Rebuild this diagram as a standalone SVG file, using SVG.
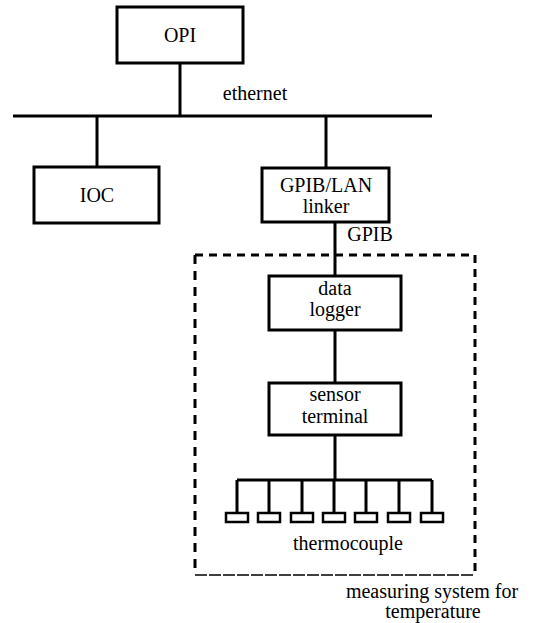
<svg xmlns="http://www.w3.org/2000/svg" width="539" height="623" viewBox="0 0 539 623" font-family="'Liberation Serif', 'DejaVu Serif', serif">
<style>
.box{fill:#fff;stroke:#000;stroke-width:3}
.ln{stroke:#000;stroke-width:3;fill:none}
text{font-family:'Liberation Serif','DejaVu Serif',serif;font-size:20px;fill:#000;text-anchor:middle}
.tc{fill:#fff;stroke:#000;stroke-width:2.5}
</style>
<rect width="539" height="623" fill="#fff"/>
<g id="connectors">
<line class="ln" x1="180" y1="63" x2="180" y2="116"/>
<line class="ln" x1="13" y1="116" x2="432" y2="116"/>
<line class="ln" x1="97" y1="116" x2="97" y2="167"/>
<line class="ln" x1="326" y1="116" x2="326" y2="168"/>
<line class="ln" x1="335" y1="222" x2="335" y2="276"/>
<line class="ln" x1="335" y1="330" x2="335" y2="383"/>
<line class="ln" x1="335" y1="435" x2="335" y2="480"/>
<line class="ln" x1="237" y1="480" x2="432" y2="480"/>
<path class="ln" d="M237 480V513M269 480V513M302 480V513M334 480V513M366 480V513M399 480V513M432 480V513"/>
<text x="370" y="241">GPIB</text>
<text x="255" y="100">ethernet</text>
</g>
<g id="measuring-system">
<path d="M195 255H475V575" fill="none" stroke="#000" stroke-width="3" stroke-dasharray="8 6"/>
<path d="M195 255V575" fill="none" stroke="#000" stroke-width="3" stroke-dasharray="9 7"/>
<path d="M195 575H475" fill="none" stroke="#000" stroke-width="1.5" stroke-dasharray="12 2"/>
<text x="432" y="598">measuring system for</text>
<text x="433" y="618">temperature</text>
</g>
<g id="opi"><rect class="box" x="117" y="7" width="126" height="56"/><text x="180" y="42">OPI</text></g>
<g id="ioc"><rect class="box" x="34" y="167" width="125" height="56"/><text x="97" y="202">IOC</text></g>
<g id="gpib-lan-linker"><rect class="box" x="262" y="168" width="127" height="54"/><text x="326" y="192">GPIB/LAN</text><text x="326" y="213">linker</text></g>
<g id="data-logger"><rect class="box" x="269" y="276" width="132" height="54"/><text x="335" y="295">data</text><text x="335" y="316">logger</text></g>
<g id="sensor-terminal"><rect class="box" x="269" y="383" width="132" height="52"/><text x="335" y="401">sensor</text><text x="335" y="423">terminal</text></g>
<g id="thermocouple">
<rect class="tc" x="226" y="513" width="22" height="9"/>
<rect class="tc" x="258" y="513" width="22" height="9"/>
<rect class="tc" x="291" y="513" width="22" height="9"/>
<rect class="tc" x="323" y="513" width="22" height="9"/>
<rect class="tc" x="355" y="513" width="22" height="9"/>
<rect class="tc" x="388" y="513" width="22" height="9"/>
<rect class="tc" x="421" y="513" width="22" height="9"/>
<text x="348" y="550">thermocouple</text>
</g>
</svg>
